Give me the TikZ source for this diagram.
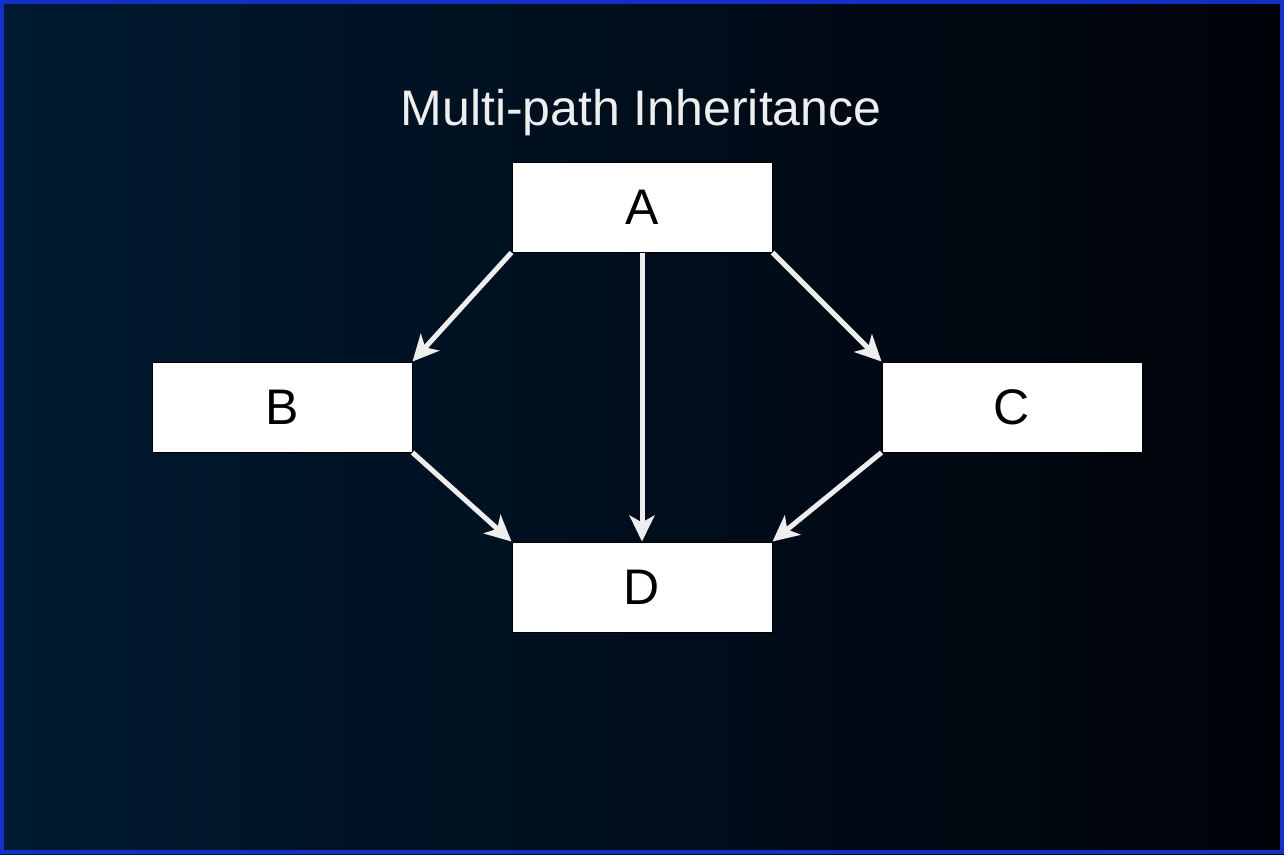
\documentclass[tikz,border=0pt]{standalone}
\usepackage{fontspec}
\setmainfont{Liberation Sans}
\usetikzlibrary{arrows.meta}
\definecolor{bgleft}{HTML}{001A30}
\definecolor{bgright}{HTML}{000208}
\definecolor{frameblue}{HTML}{1230C8}
\definecolor{arrowgray}{HTML}{EEEEEE}
\tikzset{
  classbox/.style={draw=black, line width=1pt, fill=white, minimum width=260pt, minimum height=90pt, inner sep=0pt, font=\fontsize{50}{50}\selectfont, text=black},
  inherit/.style={draw=arrowgray, line width=5pt, -{Stealth[length=26pt, width=25pt, inset=7pt, fill=arrowgray]}},
}
\begin{document}
\begin{tikzpicture}[x=1pt, y=-1pt]
  \useasboundingbox (0,0) rectangle (1284,854);
  \shade[left color=bgleft, right color=bgright] (0,0) rectangle (1284,854);
  \draw[frameblue, line width=4pt] (2,2) rectangle (1282,852);
  \node[anchor=base, text=arrowgray, font=\fontsize{50}{50}\selectfont, inner sep=0pt] (title) at (641,125) {Multi-path Inheritance};
  \node[classbox] (A) at (642,207) {A};
  \node[classbox] (B) at (282,407) {B};
  \node[classbox] (C) at (1012,407) {C};
  \node[classbox] (D) at (642,587) {D};
  \draw[inherit] (A.south west) -- (B.north east);
  \draw[inherit] (A.south) -- (D.north);
  \draw[inherit] (A.south east) -- (C.north west);
  \draw[inherit] (B.south east) -- (D.north west);
  \draw[inherit] (C.south west) -- (D.north east);
\end{tikzpicture}
\end{document}
